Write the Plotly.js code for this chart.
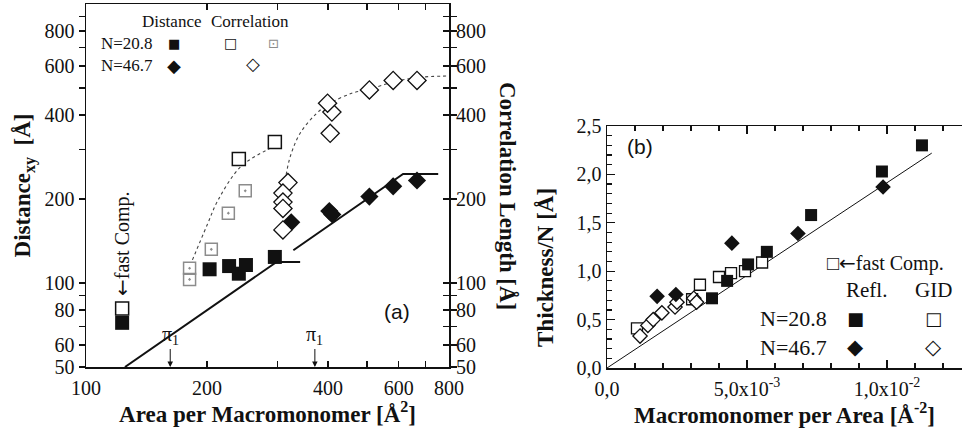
<!DOCTYPE html>
<html><head><meta charset="utf-8">
<script src="https://cdn.plot.ly/plotly-3.0.1.min.js"></script>
<style>html,body{margin:0;padding:0;background:#fff}#chart{width:962px;height:441px}</style>
</head><body><div id="chart"></div>
<script>
// ---------- Panel (a): Area per macromonomer (log-log) ----------
const dist208_x = [123, 203, 227, 240, 250, 295];
const dist208_y = [72, 112, 115, 108, 116, 124];
const corr208_x = [123, 240, 295];
const corr208_y = [81, 278, 320];
const corr208g_x = [181, 181, 205, 226, 249];
const corr208g_y = [113, 103, 132, 178, 214];
const dist467_x = [324, 403, 410, 507, 581, 666];
const dist467_y = [165, 181, 176, 204, 222, 233];
const corr467_x = [318, 309, 309, 309, 309, 405, 409, 399, 507, 581, 666];
const corr467_y = [229, 210, 195, 185, 155, 344, 410, 441, 492, 532, 532];
const fit208_x = [184, 200, 213, 242, 282, 309];
const fit208_y = [121, 161, 198, 260, 300, 318];
const fit467_x = [313, 322, 341, 375, 405, 461, 507, 581, 666, 800];
const fit467_y = [233, 283, 344, 406, 441, 480, 495, 525, 545, 552];
const lineA_x = [125, 298, 341, null, 328, 615, 752];
const lineA_y = [50, 119, 119, null, 131, 246, 246];
const pi1_x = [162, 371];
const aTickVals = [100, 200, 400, 600, 800];
const aTickText = ['100', '200', '400', '600', '800'];
const aMinorVals = [300, 500, 700];
const yTickVals = [50, 60, 80, 100, 200, 400, 600, 800];
const yTickText = ['50', '60', '80', '100', '200', '400', '600', '800'];
const yMinorVals = [70, 90, 300, 500, 700, 900];

// ---------- Panel (b): Macromonomer per area ----------
const refl208_x = [3.75e-3, 4.29e-3, 5.04e-3, 5.71e-3, 7.29e-3, 9.82e-3, 11.25e-3];
const refl208_y = [0.72, 0.90, 1.07, 1.20, 1.58, 2.03, 2.30];
const refl467_x = [1.79e-3, 2.46e-3, 4.46e-3, 6.82e-3, 9.86e-3];
const refl467_y = [0.74, 0.76, 1.29, 1.39, 1.87];
const gid208_x = [1.07e-3, 3.04e-3, 3.32e-3, 4.0e-3, 4.43e-3, 4.93e-3, 5.54e-3];
const gid208_y = [0.41, 0.71, 0.86, 0.94, 0.98, 1.00, 1.09];
const gid467_x = [1.18e-3, 1.46e-3, 1.65e-3, 1.96e-3, 2.43e-3, 2.5e-3, 3.1e-3, 3.2e-3];
const gid467_y = [0.33, 0.44, 0.50, 0.57, 0.63, 0.68, 0.72, 0.68];
const lineB_x = [0, 0.0116];
const lineB_y = [0, 2.22];
const bxTickVals = [0, 0.005, 0.01];
const bxTickText = ['0,0', '5,0x10<sup>-3</sup>', '1,0x10<sup>-2</sup>'];
const byTickVals = [0, 0.5, 1.0, 1.5, 2.0, 2.5];
const byTickText = ['0,0', '0,5', '1,0', '1,5', '2,0', '2,5'];

const W = 962, H = 441;
const px = v => v / W, py = v => 1 - v / H;
const SERIF = 'Liberation Serif, Times New Roman, serif';
const SANS = 'Liberation Sans, Arial, sans-serif';
const SYM = 'DejaVu Sans, sans-serif';
const ARROW = '<span style="font-family:DejaVu Sans">←</span>';

const traces = [
  {x: lineA_x, y: lineA_y, xaxis: 'x', yaxis: 'y', mode: 'lines', line: {color: '#111', width: 2}, connectgaps: false},
  {x: fit208_x, y: fit208_y, xaxis: 'x', yaxis: 'y', mode: 'lines', line: {color: '#444', width: 1.1, dash: 'dot', shape: 'spline'}},
  {x: fit467_x, y: fit467_y, xaxis: 'x', yaxis: 'y', mode: 'lines', line: {color: '#444', width: 1.1, dash: 'dot', shape: 'spline'}},
  {x: corr208g_x, y: corr208g_y, xaxis: 'x', yaxis: 'y', mode: 'markers', marker: {symbol: 'square-open-dot', size: 12, color: '#8c8c8c', line: {width: 1.5}}},
  {x: dist208_x, y: dist208_y, xaxis: 'x', yaxis: 'y', mode: 'markers', marker: {symbol: 'square', size: 14, color: '#111'}},
  {x: corr208_x, y: corr208_y, xaxis: 'x', yaxis: 'y', mode: 'markers', marker: {symbol: 'square', size: 13, color: 'white', line: {color: '#111', width: 1.5}}},
  {x: dist467_x, y: dist467_y, xaxis: 'x', yaxis: 'y', mode: 'markers', marker: {symbol: 'diamond', size: 14, color: '#111'}},
  {x: corr467_x, y: corr467_y, xaxis: 'x', yaxis: 'y', mode: 'markers', marker: {symbol: 'diamond', size: 14, color: 'white', line: {color: '#111', width: 1.3}}},
  {x: [100], y: [100], xaxis: 'x', yaxis: 'y2', mode: 'markers', marker: {size: 0, opacity: 0}, hoverinfo: 'skip'},

  {x: lineB_x, y: lineB_y, xaxis: 'x3', yaxis: 'y3', mode: 'lines', line: {color: '#111', width: 1}},
  {x: gid208_x, y: gid208_y, xaxis: 'x3', yaxis: 'y3', mode: 'markers', marker: {symbol: 'square', size: 11, color: 'white', line: {color: '#111', width: 1.3}}},
  {x: gid467_x, y: gid467_y, xaxis: 'x3', yaxis: 'y3', mode: 'markers', marker: {symbol: 'diamond', size: 11, color: 'white', line: {color: '#111', width: 1.3}}},
  {x: refl208_x, y: refl208_y, xaxis: 'x3', yaxis: 'y3', mode: 'markers', marker: {symbol: 'square', size: 12, color: '#111'}},
  {x: refl467_x, y: refl467_y, xaxis: 'x3', yaxis: 'y3', mode: 'markers', marker: {symbol: 'diamond', size: 12, color: '#111'}}
];

const axCommon = {showgrid: false, zeroline: false, showline: true, linecolor: '#111', linewidth: 1.5,
  tickcolor: '#111', tickwidth: 1.2, tickfont: {family: SERIF, size: 20, color: '#111'}};

function ann(text, x, y, opts) {
  return Object.assign({text: text, x: px(x), y: py(y), xref: 'paper', yref: 'paper', showarrow: false,
    xanchor: 'center', yanchor: 'middle', font: {family: SERIF, size: 17, color: '#111'}}, opts || {});
}

const annotations = [
  ann('Distance', 171, 22),
  ann('Correlation', 250, 22),
  ann('N=20.8', 127, 43),
  ann('N=46.7', 127, 66),
  ann('■', 174, 43, {font: {family: SYM, size: 13, color: '#111'}}),
  ann('□', 230, 43, {font: {family: SYM, size: 14, color: '#111'}}),
  ann('⊡', 273, 43, {font: {family: SYM, size: 13, color: '#8c8c8c'}}),
  ann('◆', 174, 66, {font: {family: SYM, size: 18, color: '#111'}}),
  ann('◇', 253, 64, {font: {family: SYM, size: 18, color: '#111'}}),
  ann('(a)', 397, 311, {font: {family: SANS, size: 21, color: '#111'}}),
  ann(ARROW + 'fast Comp.', 122, 244, {textangle: -90, font: {family: SERIF, size: 20, color: '#111'}}),
  ann('<b>Correlation Length [Å]</b>', 508, 196, {textangle: 90, font: {family: SERIF, size: 23, color: '#111'}}),

  ann('(b)', 640, 147, {font: {family: SANS, size: 21, color: '#111'}}),
  ann('□' + ARROW + 'fast Comp.', 885, 263, {font: {family: SERIF, size: 20, color: '#111'}}),
  ann('Refl.', 866, 290, {font: {family: SERIF, size: 21, color: '#111'}}),
  ann('GID', 933, 290, {font: {family: SERIF, size: 21, color: '#111'}}),
  ann('N=20.8', 793, 318, {font: {family: SERIF, size: 22, color: '#111'}}),
  ann('N=46.7', 793, 347, {font: {family: SERIF, size: 22, color: '#111'}}),
  ann('■', 855, 318, {font: {family: SYM, size: 18, color: '#111'}}),
  ann('□', 933, 318, {font: {family: SYM, size: 18, color: '#111'}}),
  ann('◆', 855, 347, {font: {family: SYM, size: 21, color: '#111'}}),
  ann('◇', 933, 347, {font: {family: SYM, size: 21, color: '#111'}}),
  ann('<b>Thickness/N [Å]</b>', 545, 268, {textangle: -90, font: {family: SERIF, size: 23, color: '#111'}})
];
pi1_x.forEach(v => annotations.push({
  text: 'π<sub>1</sub>', x: Math.log10(v), y: Math.log10(50), xref: 'x', yref: 'y',
  showarrow: true, ax: 0, ay: -32, arrowhead: 2, arrowsize: 1.1, arrowwidth: 1, arrowcolor: '#111',
  font: {family: SERIF, size: 20, color: '#111'}
}));

const layout = {
  width: W, height: H, margin: {l: 0, r: 0, t: 0, b: 0}, showlegend: false,
  paper_bgcolor: 'white', plot_bgcolor: 'white',
  xaxis: Object.assign({}, axCommon, {domain: [px(86), px(449)], anchor: 'y', type: 'log',
    range: [2, Math.log10(800)], tickmode: 'array', tickvals: aTickVals, ticktext: aTickText,
    ticks: 'inside', ticklen: 6, mirror: 'ticks', ticklabelstandoff: 2,
    minor: {tickmode: 'array', tickvals: aMinorVals, ticks: 'inside', ticklen: 6, tickcolor: '#111', tickwidth: 1.2},
    title: {text: '<b>Area per Macromonomer [Å<sup>2</sup>]</b>', font: {family: SERIF, size: 23, color: '#111'}, standoff: 8}}),
  yaxis: Object.assign({}, axCommon, {domain: [py(367), py(4)], anchor: 'x', type: 'log',
    range: [Math.log10(50), 3], tickmode: 'array', tickvals: yTickVals, ticktext: yTickText,
    ticks: 'outside', ticklen: 6, mirror: 'ticks',
    minor: {tickmode: 'array', tickvals: yMinorVals, ticks: 'outside', ticklen: 6, tickcolor: '#111', tickwidth: 1.2},
    title: {text: '<b>Distance<sub>xy</sub>  [Å]</b>', font: {family: SERIF, size: 23, color: '#111'}, standoff: 7}}),
  yaxis2: Object.assign({}, axCommon, {overlaying: 'y', side: 'right', anchor: 'x', type: 'log',
    range: [Math.log10(50), 3], tickmode: 'array', tickvals: yTickVals, ticktext: yTickText,
    ticks: 'inside', ticklen: 6, showline: false, ticklabelstandoff: 6,
    minor: {tickmode: 'array', tickvals: yMinorVals, ticks: 'inside', ticklen: 6, tickcolor: '#111', tickwidth: 1.2}}),
  xaxis3: Object.assign({}, axCommon, {domain: [px(607), 1], anchor: 'y3', range: [0, 0.01268],
    tickmode: 'array', tickvals: bxTickVals, ticktext: bxTickText, ticks: 'inside', ticklen: 8, mirror: 'ticks',
    minor: {tickmode: 'linear', tick0: 0, dtick: 0.001, ticks: 'inside', ticklen: 5, tickcolor: '#111', tickwidth: 1.2},
    ticklabelstandoff: 2,
    title: {text: '<b>Macromonomer per Area [Å<sup>-2</sup>]</b>', font: {family: SERIF, size: 23, color: '#111'}, standoff: 8}}),
  yaxis3: Object.assign({}, axCommon, {domain: [py(368), py(126)], anchor: 'x3', range: [0, 2.5],
    tickmode: 'array', tickvals: byTickVals, ticktext: byTickText, ticks: 'inside', ticklen: 8,
    minor: {tickmode: 'linear', tick0: 0, dtick: 0.1, ticks: 'inside', ticklen: 5, tickcolor: '#111', tickwidth: 1.2}}),
  annotations: annotations
};

Plotly.newPlot('chart', traces, layout, {displayModeBar: false, staticPlot: true});
</script>
</body></html>
